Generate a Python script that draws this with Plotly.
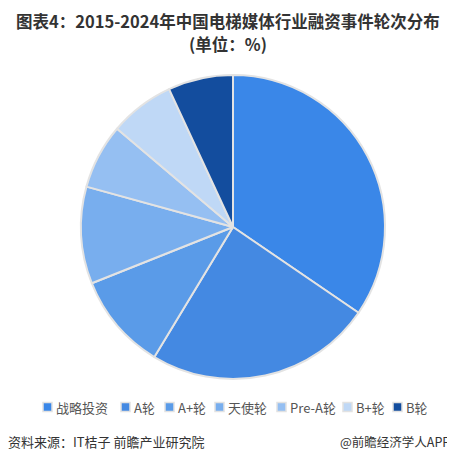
import plotly.graph_objects as go

categories = ["战略投资", "A轮", "A+轮", "天使轮", "Pre-A轮", "B+轮", "B轮"]
values = [34.5, 24.1, 10.3, 10.3, 6.9, 6.9, 6.9]
colors = ["#3A87E8", "#4489E2", "#5A9BE8", "#78AEEE", "#95BFF2", "#BFD8F6", "#134D9E"]

# layout (page pixels; the page body has an 8px margin on every side)
OFF = 8
W, H = 455 - OFF, 462 - 2 * OFF
cx, cy, r = 233, 227, 152
legend_x = [43, 121, 165, 215, 277, 343, 393]
legend_y = 407


def px(x):
    return (x - OFF) / W


def py(y):
    return 1 - (y - OFF) / H


fig = go.Figure(go.Pie(
    labels=categories,
    values=values,
    sort=False,
    direction="clockwise",
    rotation=0,
    marker=dict(colors=colors, line=dict(color="#E3E3E3", width=2)),
    textinfo="none",
    hoverinfo="label+percent",
    showlegend=False,
    domain=dict(x=[px(cx - r), px(cx + r)], y=[py(cy + r), py(cy - r)]),
))

annotations = [
    dict(text="<b>图表4：2015-2024年中国电梯媒体行业融资事件轮次分布</b>",
         x=px(228), y=1.0, yanchor="top", xanchor="center", borderpad=0,
         font=dict(size=16.5, color="#333333")),
    dict(text="<b>(单位：%)</b>",
         x=px(228), y=py(31), yanchor="top", xanchor="center", borderpad=0,
         font=dict(size=16.5, color="#333333")),
    dict(text="资料来源：IT桔子 前瞻产业研究院", x=px(6), y=py(441), yanchor="middle",
         xanchor="left", font=dict(size=13, color="#333333")),
    dict(text="@前瞻经济学人APP", x=px(452), y=py(441), yanchor="middle",
         xanchor="right", font=dict(size=12.5, color="#333333")),
]
shapes = []
for name, col, lx in zip(categories, colors, legend_x):
    shapes.append(dict(type="rect", xref="paper", yref="paper",
                       x0=px(lx), x1=px(lx + 9), y0=py(legend_y + 4.5), y1=py(legend_y - 4.5),
                       fillcolor=col, line=dict(color="#E2E2E2", width=1.5)))
    annotations.append(dict(text=name, x=px(lx + 11), y=py(legend_y), xanchor="left",
                            yanchor="middle", font=dict(size=13, color="#555555")))

for a in annotations:
    a.update(xref="paper", yref="paper", showarrow=False)

fig.update_layout(
    width=W, height=H,
    margin=dict(l=0, r=0, t=0, b=0),
    paper_bgcolor="white",
    font=dict(family="Noto Sans CJK SC, Noto Sans, sans-serif"),
    annotations=annotations,
    shapes=shapes,
)

fig.write_html("out.html")
